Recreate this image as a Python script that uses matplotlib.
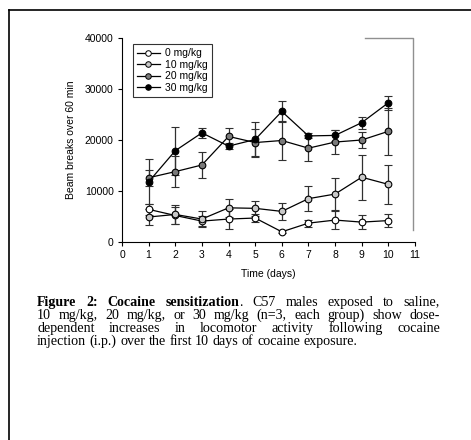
import matplotlib
matplotlib.use("Agg")
import matplotlib.pyplot as plt
from matplotlib.lines import Line2D

# ======================================================
# 데이터
# ======================================================
days = [1, 2, 3, 4, 5, 6, 7, 8, 9, 10]

dose_labels = ["0 mg/kg", "10 mg/kg", "20 mg/kg", "30 mg/kg"]
dose_colors = ["white", "#c8c8c8", "#7a7a7a", "black"]

mean_0 = [6400, 5200, 4100, 4500, 4700, 2000, 3700, 4300, 3900, 4200]
err_0 = [1100, 1700, 1000, 2000, 800, 300, 700, 1700, 1400, 1300]

mean_10 = [4900, 5400, 4500, 6700, 6600, 6000, 8500, 9400, 12700, 11300]
err_10 = [1500, 1800, 1600, 1800, 1500, 1700, 2500, 3200, 4400, 3800]

mean_20 = [12600, 13800, 15100, 20700, 19500, 19900, 18400, 19600, 20000, 21700]
err_20 = [1600, 3100, 2500, 1600, 2700, 3900, 2500, 2300, 1600, 4600]

mean_30 = [11800, 17900, 21400, 18800, 20100, 25600, 20800, 20900, 23400, 27300]
err_30 = [4400, 4700, 1000, 600, 3400, 2100, 500, 1000, 1200, 1400]

means = [mean_0, mean_10, mean_20, mean_30]
errs = [err_0, err_10, err_20, err_30]

caption_lines = [
    [("Figure", True), ("2:", True), ("Cocaine", True), ("sensitization", True, "."),
     ("C57", False), ("males", False), ("exposed", False), ("to", False), ("saline,", False)],
    [("10", False), ("mg/kg,", False), ("20", False), ("mg/kg,", False), ("or", False),
     ("30", False), ("mg/kg", False), ("(n=3,", False), ("each", False), ("group)", False),
     ("show", False), ("dose-", False)],
    [("dependent", False), ("increases", False), ("in", False), ("locomotor", False),
     ("activity", False), ("following", False), ("cocaine", False)],
    [("injection", False), ("(i.p.)", False), ("over", False), ("the", False), ("first", False),
     ("10", False), ("days", False), ("of", False), ("cocaine", False), ("exposure.", False)],
]

W, H = 471, 440
plt.rcParams["font.family"] = ["Liberation Sans", "DejaVu Sans"]

fig = plt.figure(figsize=(W / 100, H / 100), dpi=100)

# 바깥 테두리
fig.add_artist(Line2D([9 / W, 1], [1 - 10 / H, 1 - 10 / H], color="black", lw=1.2))
fig.add_artist(Line2D([9 / W, 9 / W], [1 - 10 / H, 0], color="black", lw=1.2))
fig.add_artist(Line2D([365 / W, 413 / W, 413 / W], [1 - 38 / H, 1 - 38 / H, 1 - 230 / H],
                      color="#909090", lw=1.0))

# ======================================================
# 그래프
# ======================================================
ax = fig.add_axes([122 / W, 1 - 242 / H, (415 - 122) / W, (242 - 38) / H])

for m, e, c, lab in zip(means, errs, dose_colors, dose_labels):
    ax.errorbar(days, m, yerr=e, color="black", ecolor="#303030", elinewidth=0.9,
                capsize=3, capthick=0.9, lw=0.9, marker="o", markersize=4.8,
                markerfacecolor=c, markeredgecolor="black", markeredgewidth=0.8,
                label=lab, zorder=3)

ax.set_xlim(0, 11)
ax.set_ylim(0, 40000)
ax.set_xticks(range(0, 12))
ax.set_yticks([0, 10000, 20000, 30000, 40000])
ax.spines["top"].set_visible(False)
ax.spines["right"].set_visible(False)
ax.spines["left"].set_linewidth(0.8)
ax.spines["bottom"].set_linewidth(0.8)
ax.tick_params(direction="out", length=3, width=0.8, labelsize=7.5, pad=3)
ax.set_xlabel("Time (days)", fontsize=7.5, labelpad=6)
ax.set_ylabel("Beam breaks over 60 min", fontsize=7.5, labelpad=6)

handles = [Line2D([0], [0], color="black", lw=0.9, marker="o", markersize=4,
                  markerfacecolor=c, markeredgecolor="black", markeredgewidth=0.7)
           for c in dose_colors]
leg = ax.legend(handles, dose_labels, loc="upper left", bbox_to_anchor=(0.037, 0.97),
                fontsize=7.5, frameon=True, fancybox=False, edgecolor="black",
                borderpad=0.4, labelspacing=0.15, handlelength=2.2, handletextpad=0.5,
                borderaxespad=0)
leg.get_frame().set_linewidth(0.8)

# ======================================================
# 캡션 (양쪽 정렬)
# ======================================================
renderer = fig.canvas.get_renderer()
x_left, x_right = 37, 440
line_y = [302, 315.5, 328, 341]
cap_size = 10.1
serif = ["Liberation Serif", "DejaVu Serif"]


def text_width(s, bold):
    t = fig.text(0, 0, s, fontsize=cap_size, family=serif,
                 fontweight="bold" if bold else "normal")
    w = t.get_window_extent(renderer).width
    t.remove()
    return w


for i, tokens in enumerate(caption_lines):
    widths = []
    for tok in tokens:
        w = text_width(tok[0], tok[1])
        if len(tok) > 2:
            w += text_width(tok[2], False)
        widths.append(w)
    if i < len(caption_lines) - 1:
        gap = (x_right - x_left - sum(widths)) / (len(tokens) - 1)
    else:
        gap = text_width("a b", False) - text_width("ab", False)
    x = x_left
    for tok, w in zip(tokens, widths):
        fig.text(x / W, 1 - line_y[i] / H, tok[0], fontsize=cap_size, family=serif,
                 fontweight="bold" if tok[1] else "normal", va="center", ha="left")
        if len(tok) > 2:
            bw = text_width(tok[0], tok[1])
            fig.text((x + bw) / W, 1 - line_y[i] / H, tok[2], fontsize=cap_size,
                     family=serif, va="center", ha="left")
        x += w + gap

fig.savefig("out.png", dpi=100)
